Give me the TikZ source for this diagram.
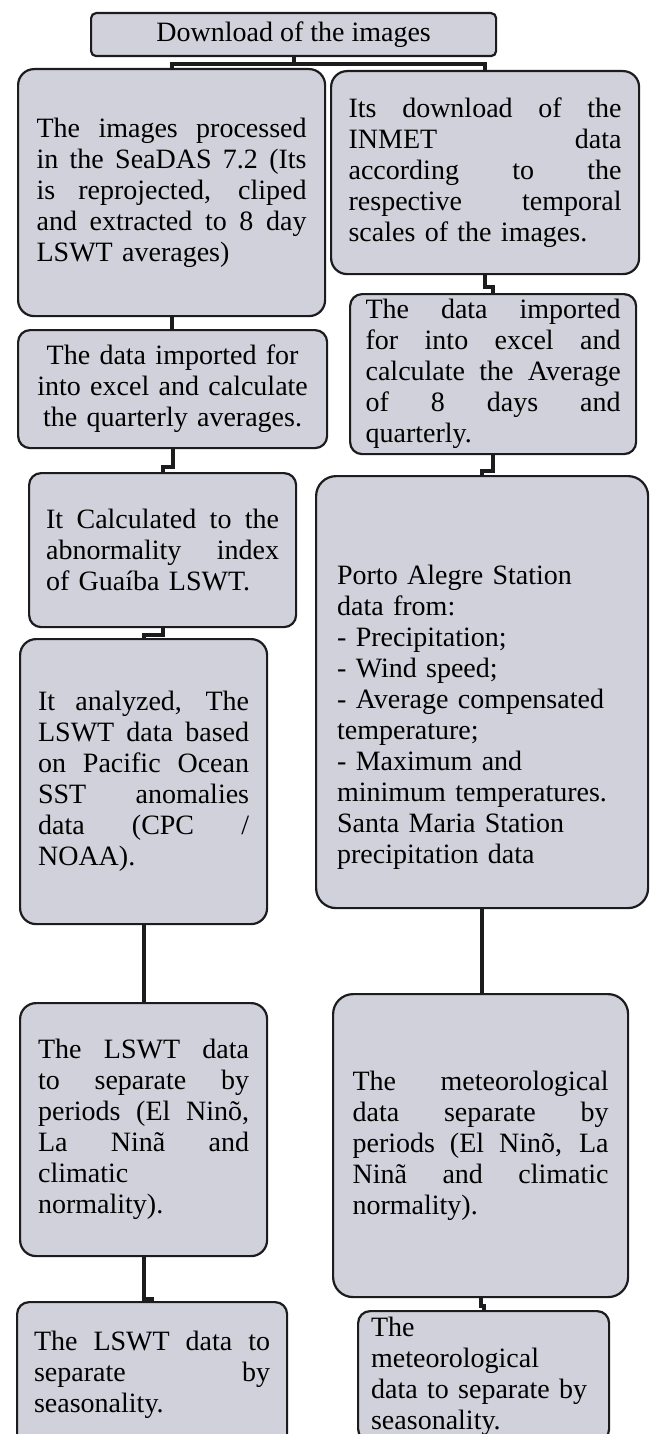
\documentclass[tikz,border=0pt]{standalone}
\usepackage{fontspec}
\setmainfont{Liberation Serif}
\usepackage{tikz}
\usetikzlibrary{positioning}
\definecolor{boxfill}{RGB}{208,209,218}
\definecolor{boxline}{RGB}{28,28,30}
\newcommand\jl[1]{\makebox[\linewidth][s]{\spaceskip=0pt\xspaceskip=0pt #1}\par}

\begin{document}
\begin{tikzpicture}[x=1pt,y=-1pt,
                    box/.style={draw=boxline,line width=2.2pt,fill=boxfill,rounded corners=16pt,
                                anchor=north west,align=left,inner sep=0pt,
                                font=\fontsize{28}{31}\selectfont},
                    link/.style={draw=boxline,line width=4pt}]
  \clip (0,0) rectangle (649,1434);

  \node[box,rounded corners=5pt,align=center,minimum width=405pt,minimum height=43pt] (dl) at (90,12) {Download of the images};

  \node[box,minimum width=307pt,minimum height=247pt,text width=270pt] (proc) at (17,68)
    {\jl{The images processed}\jl{in the SeaDAS 7.2 (Its}\jl{is reprojected, cliped}\jl{and extracted to 8 day}LSWT averages)};
  \node[box,minimum width=308pt,minimum height=203pt,text width=273pt] (inmet) at (330,70)
    {\jl{Its download of the}\jl{INMET data}\jl{according to the}\jl{respective temporal}scales of the images.};

  \node[box,rounded corners=12pt,align=center,minimum width=309pt,minimum height=118pt,text width=275pt] (avg) at (17,329)
    {The data imported for\\into excel and calculate\\the quarterly averages.};
  \node[box,rounded corners=12pt,minimum width=286pt,minimum height=160pt,text width=255pt] (rimp) at (349,293)
    {\jl{The data imported}\jl{for into excel and}\jl{calculate the Average}\jl{of 8 days and}quarterly.};

  \node[box,rounded corners=12pt,minimum width=267pt,minimum height=154pt,text width=233pt] (anom) at (28,472)
    {\jl{It Calculated to the}\jl{abnormality index}of Guaíba LSWT.};
  \node[box,rounded corners=20pt,minimum width=332pt,minimum height=432pt,text width=290pt] (porto) at (315,475)
    {\rule{0pt}{69pt}Porto Alegre Station\\data from:\\- Precipitation;\\- Wind speed;\\- Average compensated\\temperature;\\- Maximum and\\minimum temperatures.\\Santa Maria Station\\precipitation data};

  \node[box,minimum width=247pt,minimum height=285pt,text width=211pt] (enso) at (19,638)
    {\jl{It analyzed, The}\jl{LSWT data based}\jl{on Pacific Ocean}\jl{SST anomalies}\jl{data (CPC /}NOAA).};

  \node[box,minimum width=247pt,minimum height=253pt,text width=211pt] (lswtp) at (19,1002)
    {\jl{The LSWT data}\jl{to separate by}\jl{periods (El Ninõ,}\jl{La Ninã and}climatic\\normality).};
  \node[box,rounded corners=20pt,minimum width=295pt,minimum height=303pt,text width=256pt] (met) at (332,993)
    {\jl{The meteorological}\jl{data separate by}\jl{periods (El Ninõ, La}\jl{Ninã and climatic}normality).};

  \node[box,rounded corners=12pt,minimum width=270pt,minimum height=146pt,text width=236pt] (lswts) at (16,1301)
    {\jl{The LSWT data to}\jl{separate by}seasonality.};
  \node[box,rounded corners=12pt,minimum width=251pt,minimum height=130pt,text width=225pt] (mets) at (357,1310)
    {The\\meteorological\\data to separate by\\seasonality.};

  \draw[link] (dl.south) -- ++(0,7) -| (proc.north);
  \draw[link] (dl.south) -- ++(0,7) -| (inmet.north);
  \draw[link] (proc.south) -- (proc.south |- avg.north);
  \draw[link] (avg.south) -- ++(0,18) -| (anom.north);
  \draw[link] (anom.south) -- ++(0,7) -| (enso.north);
  \draw[link] (enso.south) -- (lswtp.north);
  \draw[link] (lswtp.south) -- ++(0,42) -| (lswts.north);
  \draw[link] (inmet.south) -- ++(0,12) -| (rimp.north);
  \draw[link] (rimp.south) -- ++(0,16) -| (porto.north);
  \draw[link] (porto.south) -- (porto.south |- met.north);
  \draw[link] (met.south) -- ++(0,8) -| (mets.north);
\end{tikzpicture}
\end{document}
